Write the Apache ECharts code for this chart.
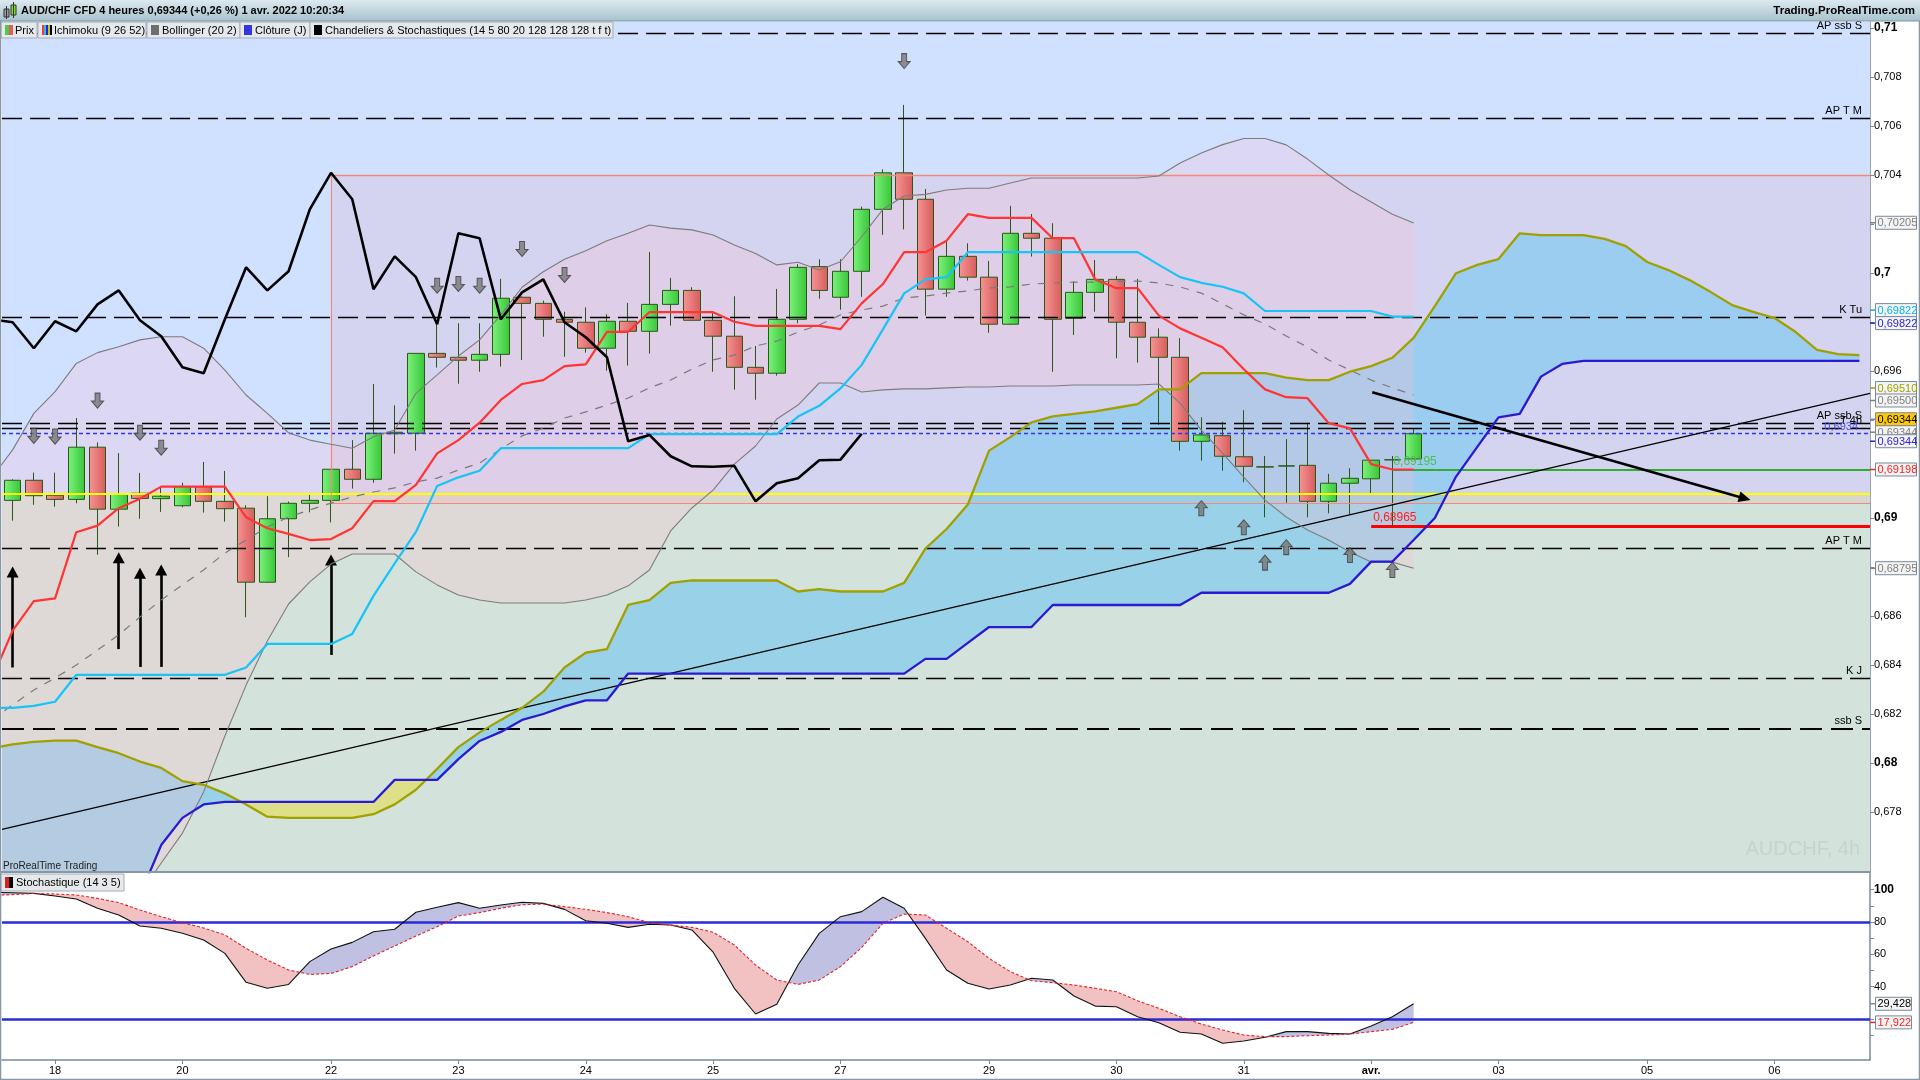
<!DOCTYPE html>
<html>
<head>
<meta charset="utf-8">
<title>AUD/CHF 4h</title>
<script src="https://cdn.jsdelivr.net/npm/echarts@6/dist/echarts.min.js"></script>
<style>
  html, body { margin: 0; padding: 0; background: #fff; }
  #main { width: 1920px; height: 1080px; }
</style>
</head>
<body>
<div id="main"></div>
<script>
// 4h slots on the time axis (67 candles + the projected cloud)
const SLOTS = 88;
const dayIdx = [2, 8, 15, 21, 27, 33, 39, 46, 52, 58, 64, 70, 77, 83];
const dayText = ['18', '20', '22', '23', '24', '25', '27', '29', '30', '31', 'avr.', '03', '05', '06'];

// candles (slot 0 .. 66)
const opens = [
  .69072,.69154,.69093,.69076,.69289,.69036,.69101,.69079,.69050,.69128,
  .69068,.69040,.68738,.68997,.69060,.69072,.69199,.69158,.69344,.69346,
  .69672,.69656,.69644,.69668,.69901,.69876,.69811,.69799,.69693,.69803,
  .69762,.69872,.69929,.69807,.69742,.69615,.69591,.69811,.70026,.69901,
  .70007,.70260,.70409,.70301,.69934,.70068,.69983,.69791,.70162,.70142,
  .69815,.69921,.69974,.69799,.69738,.69656,.69313,.69336,.69250,.69208,
  .69212,.69215,.69068,.69142,.69160,.69237,.69241];
const closes = [
  .69154,.69091,.69076,.69289,.69036,.69097,.69080,.69089,.69128,.69068,
  .69038,.68738,.68997,.69060,.69072,.69199,.69158,.69346,.69350,.69672,
  .69656,.69644,.69668,.69897,.69876,.69811,.69799,.69693,.69803,.69762,
  .69872,.69929,.69807,.69742,.69615,.69591,.69811,.70023,.69929,.70007,
  .70260,.70409,.70301,.69934,.70068,.69983,.69791,.70162,.70142,.69811,
  .69921,.69974,.69799,.69738,.69656,.69313,.69339,.69252,.69211,.69209,
  .69213,.69068,.69142,.69162,.69236,.69238,.69344];
const lows = [
  .68989,.69054,.69046,.69060,.68850,.68965,.68997,.69025,.69044,.69022,
  .68985,.68595,.68735,.68840,.69023,.68982,.69120,.69144,.69263,.69275,
  .69614,.69548,.69597,.69618,.69645,.69740,.69658,.69675,.69601,.69622,
  .69671,.69785,.69805,.69597,.69524,.69483,.69581,.69795,.69895,.69850,
  .69903,.70156,.70178,.69826,.69903,.69969,.69756,.69789,.70067,.69597,
  .69747,.69842,.69652,.69634,.69380,.69275,.69234,.69193,.69146,.69003,
  .69062,.69003,.69019,.69016,.69097,.68965,.69241];
const highs = [
  .69158,.69185,.69185,.69408,.69309,.69265,.69184,.69125,.69144,.69229,
  .69192,.69052,.69089,.69067,.69094,.69199,.69318,.69547,.69460,.69672,
  .69795,.69795,.69795,.69976,.69905,.69887,.69842,.69860,.69831,.69878,
  .70086,.69980,.69942,.69836,.69905,.69702,.69935,.70036,.70056,.70056,
  .70271,.70423,.70686,.70343,.70128,.70121,.70049,.70274,.70241,.70203,
  .69965,.70053,.69988,.69976,.69774,.69734,.69411,.69393,.69440,.69253,
  .69322,.69389,.69180,.69203,.69237,.69253,.69363];

// indicator curves start one slot left of the first candle (slot -1)
const FIRST = -1;

// ichimoku
const tenkan = [.68339,
  .68540,.68661,.68672,.68942,.68969,.69040,.69079,.69128,.69128,.69128,
  .69128,.69003,.68958,.68935,.68910,.68914,.68958,.69069,.69069,.69135,
  .69264,.69318,.69389,.69482,.69547,.69563,.69620,.69627,.69760,.69760,
  .69840,.69840,.69840,.69840,.69801,.69784,.69784,.69784,.69784,.69771,
  .69876,.69955,.70085,.70085,.70132,.70240,.70225,.70225,.70225,.70142,
  .70142,.69974,.69938,.69938,.69826,.69774,.69736,.69697,.69607,.69525,
  .69493,.69489,.69387,.69366,.69220,.69198,.69198];
const kijun = [.68225,
  .68225,.68233,.68250,.68360,.68360,.68360,.68360,.68360,.68360,.68360,
  .68360,.68390,.68486,.68486,.68486,.68486,.68527,.68682,.68815,.68943,
  .69131,.69166,.69193,.69285,.69285,.69285,.69285,.69285,.69285,.69285,
  .69342,.69342,.69342,.69342,.69342,.69342,.69342,.69414,.69458,.69529,
  .69625,.69770,.69917,.69974,.69983,.70085,.70085,.70085,.70085,.70085,
  .70085,.70085,.70085,.70085,.70033,.69983,.69960,.69944,.69917,.69845,
  .69845,.69845,.69845,.69845,.69845,.69822,.69822];
const chikou = [.69811,
  .69799,.69693,.69803,.69762,.69872,.69929,.69807,.69742,.69615,.69591,
  .69811,.70023,.69929,.70007,.70260,.70409,.70301,.69934,.70068,.69983,
  .69791,.70162,.70142,.69811,.69921,.69974,.69799,.69738,.69656,.69313,
  .69339,.69252,.69211,.69209,.69213,.69068,.69142,.69162,.69236,.69238,
  .69344];
const spanA = [.68060,
  .68076,.68086,.68091,.68091,.68065,.68040,.68006,.67980,.67926,.67911,
  .67876,.67831,.67781,.67776,.67776,.67776,.67776,.67791,.67831,.67891,
  .67976,.68065,.68125,.68176,.68225,.68291,.68390,.68450,.68465,.68645,
  .68665,.68735,.68745,.68745,.68745,.68745,.68745,.68700,.68710,.68700,
  .68700,.68700,.68735,.68875,.68955,.69055,.69275,.69330,.69390,.69415,
  .69425,.69435,.69450,.69465,.69525,.69525,.69591,.69591,.69591,.69591,
  .69573,.69563,.69563,.69597,.69620,.69654,.69735,.69865,.69999,.70033,
  .70057,.70162,.70155,.70155,.70155,.70139,.70110,.70045,.70012,.69971,
  .69922,.69869,.69841,.69816,.69759,.69686,.69669,.69665];
const spanB = [.67400,
  .67400,.67400,.67400,.67400,.67400,.67400,.67460,.67665,.67776,.67831,
  .67841,.67841,.67841,.67841,.67841,.67841,.67841,.67841,.67931,.67931,
  .67931,.68016,.68090,.68127,.68176,.68200,.68231,.68256,.68256,.68365,
  .68365,.68365,.68365,.68365,.68365,.68365,.68365,.68365,.68365,.68365,
  .68365,.68365,.68365,.68425,.68425,.68490,.68555,.68555,.68555,.68645,
  .68645,.68645,.68645,.68645,.68645,.68645,.68695,.68695,.68695,.68695,
  .68695,.68695,.68695,.68731,.68822,.68822,.68910,.69000,.69169,.69290,
  .69411,.69425,.69577,.69629,.69641,.69641,.69641,.69641,.69641,.69641,
  .69641,.69641,.69641,.69641,.69641,.69641,.69641,.69641];

// bollinger (20 2)
const bbUpper = [.69163,
  .69278,.69427,.69516,.69631,.69675,.69699,.69727,.69740,.69740,.69693,
  .69604,.69502,.69427,.69348,.69318,.69301,.69285,.69332,.69359,.69509,
  .69584,.69661,.69727,.69829,.69942,.70005,.70056,.70091,.70132,.70162,
  .70196,.70183,.70176,.70155,.70114,.70080,.70033,.70044,.70012,.70046,
  .70148,.70260,.70314,.70321,.70339,.70346,.70346,.70367,.70388,.70388,
  .70388,.70388,.70388,.70388,.70396,.70449,.70490,.70524,.70549,.70549,
  .70523,.70465,.70400,.70340,.70290,.70240,.70204];
const bbMiddle = [.68176,
  .68237,.68298,.68347,.68400,.68461,.68523,.68596,.68665,.68727,.68788,
  .68857,.68910,.68963,.69004,.69033,.69061,.69086,.69106,.69123,.69147,
  .69163,.69196,.69224,.69282,.69335,.69367,.69408,.69433,.69461,.69490,
  .69531,.69563,.69608,.69645,.69665,.69702,.69722,.69759,.69788,.69829,
  .69849,.69865,.69898,.69906,.69918,.69927,.69939,.69943,.69955,.69959,
  .69963,.69963,.69967,.69967,.69959,.69943,.69918,.69874,.69829,.69792,
  .69743,.69698,.69645,.69604,.69563,.69531,.69502];
const bbLower = [.67217,
  .67196,.67167,.67180,.67167,.67249,.67347,.67465,.67592,.67714,.67882,
  .68110,.68318,.68498,.68649,.68739,.68812,.68853,.68853,.68853,.68780,
  .68727,.68686,.68665,.68653,.68653,.68653,.68653,.68665,.68686,.68723,
  .68788,.68947,.69041,.69114,.69220,.69294,.69404,.69461,.69551,.69551,
  .69514,.69523,.69527,.69527,.69531,.69535,.69535,.69539,.69539,.69539,
  .69543,.69543,.69543,.69543,.69547,.69469,.69359,.69265,.69167,.69073,
  .69004,.68951,.68910,.68861,.68820,.68820,.68795];

// stochastique (14 3 5)
const stochK = [98.3,
  98.1,97.7,96.1,94.2,88.5,84.3,77.5,76.1,73.0,68.9,
  60.6,42.7,39.0,41.4,55.5,63.3,67.4,74.0,75.5,86.0,
  89.1,92.0,88.5,90.5,92.2,91.5,87.8,80.8,79.2,76.7,
  78.6,78.1,75.1,61.3,39.0,23.1,29.1,53.4,73.0,83.3,
  86.4,95.3,88.5,69.9,50.3,42.1,38.6,41.0,45.2,44.1,
  34.2,28.0,27.6,21.4,17.7,11.8,10.7,5.0,6.4,8.7,
  12.2,12.2,11.1,10.7,15.7,21.4,29.43];
const stochD = [96.5,
  96.9,97.7,97.3,96.7,94.6,92.0,87.4,83.3,79.6,76.3,
  72.0,63.7,56.5,50.3,47.6,48.2,52.4,59.0,65.2,71.3,
  77.1,83.7,85.8,88.5,90.7,91.1,89.5,87.8,85.8,83.3,
  79.6,78.1,76.7,73.7,65.8,53.4,44.1,41.4,44.1,52.4,
  64.3,79.2,84.9,84.3,76.1,67.8,57.5,49.3,43.7,42.5,
  41.0,39.0,36.9,31.3,26.6,21.4,16.9,13.2,10.1,9.1,
  9.1,9.7,10.1,10.7,12.2,13.6,17.92];
const stochLevels = [80, 20];

// price axis
const priceMin = 0.675551, priceMax = 0.710245;
const priceTicks = [0.678,0.68,0.682,0.684,0.686,0.688,0.69,0.692,0.694,0.696,0.698,0.7,0.702,0.704,0.706,0.708,0.71];
const priceLabels = [0.678,0.68,0.682,0.684,0.686,0.69,0.696,0.7,0.704,0.706,0.708,0.71];
const stochMin = -5.34, stochMax = 110.92;
const stochTicks = [10,20,30,40,50,60,70,80,90,100];
const stochLabels = [40,60,80,100];

// horizontal levels drawn by the "Chandeliers" indicator
const levels = [0.70978, 0.70630, 0.69819, 0.69819, 0.69386, 0.69366, 0.68877, 0.68346, 0.68139];
const levelText = ['AP ssb S', 'AP T M', 'K Tu', '4h', 'AP ssb S', 'T 4h', 'AP T M', 'K J', 'ssb S'];
const lastPrice = 0.69344;
const yellowLevel = 0.69098;
const boxTop = 0.704, boxBottom = 0.69061, boxStart = 15;
const greenLevel = 0.69198, greenStart = 65;
const redLevel = 0.68965, redStart = 64;

// arrows
const downIdx = [1, 2, 4, 6, 7, 20, 21, 22, 24, 26, 42];
const downAt = [0.69335,0.69332,0.69479,0.69348,0.69287,0.69948,0.69955,0.69948,0.70098,0.69992,0.70865];
const upIdx = [56, 58, 59, 60, 63, 65];
const upAt = [0.69040,0.68962,0.68818,0.68881,0.68849,0.68788];
const pushIdx = [0, 5, 6, 7, 15];
const pushFrom = [0.68390,0.68465,0.68392,0.68392,0.68441];
const pushTo = [0.68780,0.68838,0.68775,0.68788,0.68829];
const trendLine = [[-0.5, 0.67729], [87.5, 0.69509]];
const bigArrow = [[64.05, 0.69513], [81.6, 0.69080]];

// value boxes on the right scale
const boxValues = [0.70205, 0.69822, 0.69822, 0.69510, 0.69500, 0.69344, 0.69344, 0.69344, 0.69198, 0.68795];
const boxColors = ['#808080', '#00b4f0', '#2a22d8', '#a0a000', '#808080', '#000000', '#808080', '#2a22d8', '#ff2020', '#808080'];
const boxFills = ['#f4f4f4', '#f4f4f4', '#f4f4f4', '#f4f4f4', '#f4f4f4', '#ffc800', '#f4f4f4', '#f4f4f4', '#f4f4f4', '#f4f4f4'];
const boxNudge = [0, -6.5, 6.5, -5, 5, -14.5, -1.5, 7.5, 0, 0];
const stochBoxValues = [29.428, 17.922];
const stochBoxColors = ['#000000', '#ff2020'];

const FONT = '"Liberation Sans", Arial, sans-serif';
const LEFT = -0.5, RIGHT = SLOTS - 0.5;
const slotNames = Array.from({ length: SLOTS }, (_, i) => 'c' + i);
const dayMap = {};
dayIdx.forEach((ix, k) => { dayMap[ix] = dayText[k]; });
const pairs = (arr, start) => arr.map((v, i) => [i + (start || 0), v]);
const fmtPrice = v => String(+v.toFixed(3)).replace('.', ',');
const fmtBox = v => v.toFixed(5).replace('.', ',');
const hLine = (v, extra) => [Object.assign({ coord: [LEFT, v] }, extra), { coord: [RIGHT, v] }];

function clipHalf(pts, keep, cut) {
  const out = [];
  for (let k = 0; k < pts.length; k++) {
    const a = pts[k], b = pts[(k + 1) % pts.length];
    const ia = keep(a), ib = keep(b);
    if (ia) out.push(a);
    if (ia !== ib) out.push(cut(a, b));
  }
  return out;
}
function clipRect(pts, x0, x1, y0, y1) {
  const cutY = y => (a, b) => { const t = (y - a[1]) / (b[1] - a[1]); return [a[0] + t * (b[0] - a[0]), y]; };
  const cutX = x => (a, b) => { const t = (x - a[0]) / (b[0] - a[0]); return [x, a[1] + t * (b[1] - a[1])]; };
  pts = clipHalf(pts, p => p[1] >= y0, cutY(y0));
  if (pts.length) pts = clipHalf(pts, p => p[1] <= y1, cutY(y1));
  if (pts.length) pts = clipHalf(pts, p => p[0] >= x0, cutX(x0));
  if (pts.length) pts = clipHalf(pts, p => p[0] <= x1, cutX(x1));
  return pts;
}

// filled band between two curves, colour by which one is on top
function bandRender(top, bot, start, posColor, negColor) {
  return function (params, api) {
    if (params.dataIndex !== 0) return;
    const cs = params.coordSys;
    const runs = [];
    let cur = null, prevD = 0;
    for (let k = 0; k < top.length; k++) {
      const d = top[k] - bot[k];
      const s = d >= 0 ? 1 : -1;
      const x = start + k;
      if (cur && s !== cur.s) {
        const t = prevD / (prevD - d);
        const xc = x - 1 + t;
        const yc = top[k - 1] + t * (top[k] - top[k - 1]);
        cur.up.push([xc, yc]); cur.dn.push([xc, yc]);
        runs.push(cur);
        cur = { s: s, up: [[xc, yc]], dn: [[xc, yc]] };
      }
      if (!cur) cur = { s: s, up: [], dn: [] };
      cur.up.push([x, top[k]]); cur.dn.push([x, bot[k]]);
      prevD = d;
    }
    runs.push(cur);
    const children = [];
    runs.forEach(r => {
      const pts = r.up.concat(r.dn.slice().reverse()).map(p => api.coord(p));
      const c = clipRect(pts, cs.x, cs.x + cs.width, cs.y, cs.y + cs.height);
      if (c.length > 2) {
        children.push({ type: 'polygon', shape: { points: c }, style: { fill: r.s > 0 ? posColor : negColor } });
      }
    });
    return { type: 'group', children: children };
  };
}

function zonesRender(params, api) {
  if (params.dataIndex !== 0) return;
  const cs = params.coordSys;
  const L = cs.x, R = cs.x + cs.width, T = cs.y, B = cs.y + cs.height;
  const yY = api.coord([0, yellowLevel])[1];
  const yT = api.coord([0, boxTop])[1];
  const yB = api.coord([0, boxBottom])[1];
  const xB = api.coord([boxStart, 0])[0];
  return { type: 'group', children: [
    { type: 'rect', shape: { x: L, y: T, width: R - L, height: yY - T }, style: { fill: '#d0e0ff' } },
    { type: 'rect', shape: { x: L, y: yY, width: R - L, height: B - yY }, style: { fill: '#d3e2db' } },
    { type: 'rect', shape: { x: xB, y: yT, width: R - xB, height: yB - yT }, style: { fill: 'rgba(255,110,110,0.10)' } }
  ] };
}

function boxRender(values, colors, fills, nudge, w) {
  return function (params, api) {
    const k = params.dataIndex;
    const cs = params.coordSys;
    const x0 = cs.x + cs.width;
    const y = api.coord([0, values[k]])[1] + nudge[k];
    const txt = fills === null ? values[k].toFixed(3).replace('.', ',') : fmtBox(values[k]);
    return { type: 'group', children: [
      { type: 'line', shape: { x1: x0, y1: y, x2: x0 + 5, y2: y }, style: { stroke: colors[k] === '#000000' ? '#7a8a99' : colors[k], lineWidth: 1.5 } },
      { type: 'rect', shape: { x: x0 + 5.5, y: y - 6.5, width: w, height: 13 },
        style: { fill: fills ? fills[k] : '#f4f4f4', stroke: '#7a8a99', lineWidth: 1 } },
      { type: 'text', x: x0 + 7.5, y: y + 0.5,
        style: { text: txt, fill: colors[k], font: '11px ' + FONT, textAlign: 'left', textVerticalAlign: 'middle' } }
    ] };
  };
}

const candleData = opens.map((o, i) => [o, closes[i], lows[i], highs[i]]);
const greenFill = new echarts.graphic.LinearGradient(0, 0, 1, 0, [{ offset: 0, color: '#7cf27c' }, { offset: 1, color: '#38c638' }]);
const redFill = new echarts.graphic.LinearGradient(0, 0, 1, 0, [{ offset: 0, color: '#f79494' }, { offset: 1, color: '#d65c5c' }]);

const levelLines = levels.map((v, k) => hLine(v, {
  lineStyle: { color: '#000', width: levelText[k] === 'ssb S' ? 2.2 : 1.4, type: levelText[k] === 'ssb S' ? [22, 9] : [20, 8], opacity: levelText[k] === '4h' ? 0 : 1 },
  label: { formatter: levelText[k], distance: levelText[k] === '4h' ? [6, 2] : [8, 2] }
}));

const arrowDown = 'path://M3.5,0 L8.5,0 L8.5,8 L12,8 L6,15 L0,8 L3.5,8 Z';
const arrowUp = 'path://M6,0 L12,7 L8.5,7 L8.5,15 L3.5,15 L3.5,7 L0,7 Z';

const myChart = echarts.init(document.getElementById('main'), null, { renderer: 'canvas' });
const line = (name, data, color, width, type, z, extra) => Object.assign({
  name: name, type: 'line', xAxisIndex: 1, yAxisIndex: 0, data: data, showSymbol: false, symbol: 'none',
  lineStyle: { color: color, width: width, type: type || 'solid' }, z: z, silent: true
}, extra || {});
const hiddenX = (grid) => ({ type: 'value', gridIndex: grid, min: LEFT, max: RIGHT, show: false,
  axisLine: { show: false, onZero: false }, axisTick: { show: false }, axisLabel: { show: false }, splitLine: { show: false } });

const option = {
  animation: false,
  textStyle: { fontFamily: FONT },
  grid: [
    { left: 2, top: 22, width: 1868, height: 850 },
    { left: 2, top: 872, width: 1868, height: 188 }
  ],
  xAxis: [
    { type: 'category', gridIndex: 0, data: slotNames, show: false, axisLine: { onZero: false } },
    hiddenX(0),
    { type: 'category', gridIndex: 1, data: slotNames, position: 'bottom',
      axisLine: { show: true, onZero: false, lineStyle: { color: '#7a8a99', width: 1.5 } },
      axisTick: { show: true, alignWithLabel: true, length: 4, interval: i => dayMap[i] !== undefined, lineStyle: { color: '#7a8a99' } },
      axisLabel: { interval: i => dayMap[i] !== undefined, margin: 5, fontSize: 11, color: '#000',
        formatter: (v, i) => (dayMap[i] === 'avr.' ? '{b|avr.}' : dayMap[i]),
        rich: { b: { fontWeight: 'bold', fontSize: 11, color: '#000' } } },
      splitLine: { show: false } },
    hiddenX(1)
  ],
  yAxis: [
    { type: 'value', gridIndex: 0, position: 'right', min: priceMin, max: priceMax, scale: true,
      axisLine: { show: true, onZero: false, lineStyle: { color: '#7a8a99', width: 1.5 } },
      axisTick: { show: true, length: 4, customValues: priceTicks, lineStyle: { color: '#7a8a99' } },
      axisLabel: { customValues: priceLabels, margin: 4, fontSize: 11, color: '#000',
        formatter: v => (Math.abs(v * 100 - Math.round(v * 100)) < 1e-6 ? '{b|' + fmtPrice(v) + '}' : fmtPrice(v)),
        rich: { b: { fontWeight: 'bold', fontSize: 12, color: '#000' } } },
      splitLine: { show: false } },
    { type: 'value', gridIndex: 1, position: 'right', min: stochMin, max: stochMax,
      axisLine: { show: true, onZero: false, lineStyle: { color: '#7a8a99', width: 1.5 } },
      axisTick: { show: true, length: 4, customValues: stochTicks, lineStyle: { color: '#7a8a99' } },
      axisLabel: { customValues: stochLabels, margin: 4, fontSize: 11, color: '#000',
        formatter: v => (v === 100 ? '{b|100}' : String(v)),
        rich: { b: { fontWeight: 'bold', fontSize: 12, color: '#000' } } },
      splitLine: { show: false } }
  ],
  series: [
    { type: 'custom', xAxisIndex: 1, yAxisIndex: 0, data: [[0, 0]], renderItem: zonesRender, z: 1, silent: true },
    { type: 'custom', xAxisIndex: 1, yAxisIndex: 0, data: [[0, 0]], z: 2, silent: true,
      renderItem: bandRender(spanA, spanB, FIRST, 'rgba(115,200,240,0.6)', 'rgba(232,222,70,0.55)') },
    { type: 'custom', xAxisIndex: 1, yAxisIndex: 0, data: [[0, 0]], z: 3, silent: true,
      renderItem: bandRender(bbUpper, bbLower, FIRST, 'rgba(255,190,205,0.26)', 'rgba(255,190,205,0.26)') },
    { name: 'Prix', type: 'candlestick', xAxisIndex: 0, yAxisIndex: 0, data: candleData, barWidth: 17, z: 4, silent: true,
      itemStyle: { color: greenFill, color0: redFill, borderColor: '#2b5716', borderColor0: '#2b5716', borderWidth: 1 } },
    // levels, zone borders
    line('levels', [[0, lastPrice]], 'transparent', 0, 'solid', 5, {
      markLine: { silent: true, symbol: ['none', 'none'], animation: false, precision: 6,
        label: { show: true, position: 'insideEndTop', color: '#000', fontSize: 11, fontFamily: FONT },
        data: levelLines.concat([
          hLine(lastPrice, { lineStyle: { color: '#3434e6', width: 1.3, type: [4, 3] },
            label: { formatter: '0,6934', color: '#5050f0', distance: [12, 1] } }),
          hLine(yellowLevel, { lineStyle: { color: '#ffff00', width: 2, type: 'solid' }, label: { show: false } }),
          [{ coord: [boxStart, boxTop], lineStyle: { color: '#f28a7c', width: 1.3, type: 'solid' }, label: { show: false } }, { coord: [RIGHT, boxTop] }],
          [{ coord: [boxStart, boxBottom], lineStyle: { color: '#f28a7c', width: 1, type: 'solid' }, label: { show: false } }, { coord: [RIGHT, boxBottom] }],
          [{ coord: [boxStart, boxTop], lineStyle: { color: '#f28a7c', width: 1.2, type: 'solid' }, label: { show: false } }, { coord: [boxStart, boxBottom] }],
          [{ coord: [greenStart, greenLevel], lineStyle: { color: '#2fae2f', width: 2, type: 'solid' },
            label: { formatter: '0,69195', position: 'insideStartTop', color: '#4cc04c', fontSize: 12, distance: [1, 2] } },
           { coord: [RIGHT, greenLevel] }],
          [{ coord: [redStart, redLevel], lineStyle: { color: '#ff0000', width: 3, type: 'solid' },
            label: { formatter: '0,68965', position: 'insideStartTop', color: '#ff2020', fontSize: 12, distance: [2, 3] } },
           { coord: [RIGHT, redLevel] }]
        ]) } }),
    // bollinger
    line('BB haut', pairs(bbUpper, FIRST), '#7c7c7c', 1.1, 'solid', 6),
    line('BB bas', pairs(bbLower, FIRST), '#7c7c7c', 1.1, 'solid', 6),
    line('BB moy', pairs(bbMiddle, FIRST), '#7a7a7a', 1.2, [8, 8], 6),
    // ichimoku
    line('SSA', pairs(spanA, FIRST), '#a0a000', 2.3, 'solid', 7),
    line('SSB', pairs(spanB, FIRST), '#2a1ad0', 2.3, 'solid', 7),
    line('Tenkan', pairs(tenkan, FIRST), '#ff3434', 2.2, 'solid', 7),
    line('Kijun', pairs(kijun, FIRST), '#16c4f6', 2.2, 'solid', 7),
    line('Chikou', pairs(chikou, FIRST), '#000000', 2.6, 'solid', 7),
    // trend lines and arrows
    line('trend', [[0, lastPrice]], 'transparent', 0, 'solid', 8, {
      markLine: { silent: true, animation: false, precision: 6, label: { show: false },
        data: [
          [{ coord: trendLine[0], symbol: 'none', lineStyle: { color: '#000', width: 1.2, type: 'solid' } }, { coord: trendLine[1], symbol: 'none' }],
          [{ coord: bigArrow[0], symbol: 'none', lineStyle: { color: '#000', width: 2.6, type: 'solid' } },
           { coord: bigArrow[1], symbol: 'triangle', symbolSize: [11, 12] }]
        ].concat(pushIdx.map((ix, k) => [
          { coord: [ix, pushFrom[k]], symbol: 'none', lineStyle: { color: '#000', width: 2.6, type: 'solid' } },
          { coord: [ix, pushTo[k]], symbol: 'triangle', symbolSize: [12, 11] }
        ])) } }),
    { type: 'scatter', xAxisIndex: 1, yAxisIndex: 0, data: downIdx.map((ix, k) => [ix, downAt[k]]), symbol: arrowDown, symbolSize: [12, 15],
      itemStyle: { color: '#777777', borderColor: '#3c3c3c', borderWidth: 1 }, z: 9, silent: true },
    { type: 'scatter', xAxisIndex: 1, yAxisIndex: 0, data: upIdx.map((ix, k) => [ix, upAt[k]]), symbol: arrowUp, symbolSize: [12, 15],
      itemStyle: { color: '#777777', borderColor: '#3c3c3c', borderWidth: 1 }, z: 9, silent: true },
    // value boxes on the price scale
    { type: 'custom', xAxisIndex: 1, yAxisIndex: 0, data: boxValues.map((v, k) => [k, v]), z: 12, silent: true, clip: false,
      renderItem: boxRender(boxValues, boxColors, boxFills, boxNudge, 41) },
    // stochastic panel
    { type: 'custom', xAxisIndex: 3, yAxisIndex: 1, data: [[0, 0]], z: 2, silent: true,
      renderItem: bandRender(stochK, stochD, FIRST, '#c0c0e2', '#f2c2c2') },
    { name: '%K', type: 'line', xAxisIndex: 3, yAxisIndex: 1, data: pairs(stochK, FIRST), showSymbol: false, symbol: 'none', z: 5, silent: true,
      lineStyle: { color: '#111', width: 1.1 },
      markLine: { silent: true, symbol: ['none', 'none'], animation: false, precision: 2, label: { show: false },
        lineStyle: { color: '#2a2ad8', width: 2.6, type: 'solid' },
        data: stochLevels.map(v => hLine(v)) } },
    { name: '%D', type: 'line', xAxisIndex: 3, yAxisIndex: 1, data: pairs(stochD, FIRST), showSymbol: false, symbol: 'none', z: 6, silent: true,
      lineStyle: { color: '#e02424', width: 1.1, type: [3, 2] } },
    { type: 'custom', xAxisIndex: 3, yAxisIndex: 1, data: stochBoxValues.map((v, k) => [k, v]), z: 12, silent: true, clip: false,
      renderItem: boxRender(stochBoxValues, stochBoxColors, null, [0, 0], 36) }
  ],
  graphic: [
    // title bar
    { type: 'rect', z: 100, shape: { x: 0, y: 0, width: 1920, height: 21 },
      style: { fill: new echarts.graphic.LinearGradient(0, 0, 0, 1, [{ offset: 0, color: '#dde9ef' }, { offset: 1, color: '#a7c2cd' }]) } },
    { type: 'line', z: 101, shape: { x1: 0, y1: 21, x2: 1920, y2: 21 }, style: { stroke: '#7d97a4', lineWidth: 1 } },
    { type: 'rect', z: 101, shape: { x: 4, y: 9, width: 5, height: 8 }, style: { fill: '#9a9a9a', stroke: '#333', lineWidth: 1 } },
    { type: 'line', z: 101, shape: { x1: 6.5, y1: 6, x2: 6.5, y2: 19 }, style: { stroke: '#333', lineWidth: 1 } },
    { type: 'rect', z: 101, shape: { x: 11, y: 5, width: 5, height: 10 }, style: { fill: '#7ee02c', stroke: '#333', lineWidth: 1 } },
    { type: 'line', z: 101, shape: { x1: 13.5, y1: 2, x2: 13.5, y2: 18 }, style: { stroke: '#333', lineWidth: 1 } },
    { type: 'text', z: 102, x: 21, y: 11, style: { text: 'AUD/CHF CFD 4 heures 0,69344 (+0,26 %) 1 avr. 2022 10:20:34',
      fill: '#000', font: 'bold 11px ' + FONT, textAlign: 'left', textVerticalAlign: 'middle' } },
    { type: 'text', z: 102, x: 1915, y: 11, style: { text: 'Trading.ProRealTime.com',
      fill: '#000', font: 'bold 11.5px ' + FONT, textAlign: 'right', textVerticalAlign: 'middle' } },
    // legend row
    { type: 'rect', z: 100, shape: { x: 1, y: 22, width: 36, height: 16 }, style: { fill: '#e6e9ec', stroke: '#a4adb5', lineWidth: 1 } },
    { type: 'rect', z: 101, shape: { x: 5, y: 25, width: 4, height: 10 }, style: { fill: '#4ccc4c' } },
    { type: 'rect', z: 101, shape: { x: 9, y: 25, width: 4, height: 10 }, style: { fill: '#e45a5a' } },
    { type: 'text', z: 102, x: 15, y: 30.5, style: { text: 'Prix', fill: '#000', font: '11px ' + FONT, textAlign: 'left', textVerticalAlign: 'middle' } },
    { type: 'rect', z: 100, shape: { x: 38, y: 22, width: 108, height: 16 }, style: { fill: '#e6e9ec', stroke: '#a4adb5', lineWidth: 1 } },
    { type: 'rect', z: 101, shape: { x: 42, y: 25, width: 2, height: 10 }, style: { fill: '#ff3434' } },
    { type: 'rect', z: 101, shape: { x: 44, y: 25, width: 2, height: 10 }, style: { fill: '#16c4f6' } },
    { type: 'rect', z: 101, shape: { x: 46, y: 25, width: 2, height: 10 }, style: { fill: '#2a1ad0' } },
    { type: 'rect', z: 101, shape: { x: 48, y: 25, width: 2, height: 10 }, style: { fill: '#c8c800' } },
    { type: 'rect', z: 101, shape: { x: 50, y: 25, width: 2, height: 10 }, style: { fill: '#000' } },
    { type: 'text', z: 102, x: 54, y: 30.5, style: { text: 'Ichimoku (9 26 52)', fill: '#000', font: '11px ' + FONT, textAlign: 'left', textVerticalAlign: 'middle' } },
    { type: 'rect', z: 100, shape: { x: 147, y: 22, width: 93, height: 16 }, style: { fill: '#e6e9ec', stroke: '#a4adb5', lineWidth: 1 } },
    { type: 'rect', z: 101, shape: { x: 151, y: 25, width: 8, height: 10 }, style: { fill: '#6e6e6e' } },
    { type: 'text', z: 102, x: 162, y: 30.5, style: { text: 'Bollinger (20 2)', fill: '#000', font: '11px ' + FONT, textAlign: 'left', textVerticalAlign: 'middle' } },
    { type: 'rect', z: 100, shape: { x: 240, y: 22, width: 70, height: 16 }, style: { fill: '#e6e9ec', stroke: '#a4adb5', lineWidth: 1 } },
    { type: 'rect', z: 101, shape: { x: 244, y: 25, width: 8, height: 10 }, style: { fill: '#3434e0' } },
    { type: 'text', z: 102, x: 255, y: 30.5, style: { text: 'Clôture (J)', fill: '#000', font: '11px ' + FONT, textAlign: 'left', textVerticalAlign: 'middle' } },
    { type: 'rect', z: 100, shape: { x: 310, y: 22, width: 303, height: 16 }, style: { fill: '#e6e9ec', stroke: '#a4adb5', lineWidth: 1 } },
    { type: 'rect', z: 101, shape: { x: 314, y: 25, width: 8, height: 10 }, style: { fill: '#000' } },
    { type: 'text', z: 102, x: 325, y: 30.5, style: { text: 'Chandeliers & Stochastiques (14 5 80 20 128 128 128 t f t)', fill: '#000', font: '11px ' + FONT, textAlign: 'left', textVerticalAlign: 'middle' } },
    // panel texts
    { type: 'text', z: 102, x: 3, y: 866, style: { text: 'ProRealTime Trading', fill: '#222', font: '10px ' + FONT, textAlign: 'left', textVerticalAlign: 'middle' } },
    { type: 'text', z: 102, x: 1860, y: 849, style: { text: 'AUDCHF, 4h', fill: '#c3d5cd', font: '20px ' + FONT, textAlign: 'right', textVerticalAlign: 'middle' } },
    { type: 'rect', z: 100, shape: { x: 1, y: 874, width: 123, height: 17 }, style: { fill: '#e6e9ec', stroke: '#a4adb5', lineWidth: 1 } },
    { type: 'rect', z: 101, shape: { x: 5, y: 877, width: 4, height: 11 }, style: { fill: '#e02020' } },
    { type: 'rect', z: 101, shape: { x: 9, y: 877, width: 4, height: 11 }, style: { fill: '#000' } },
    { type: 'text', z: 102, x: 16, y: 883, style: { text: 'Stochastique (14 3 5)', fill: '#000', font: '11px ' + FONT, textAlign: 'left', textVerticalAlign: 'middle' } },
    // frames
    { type: 'line', z: 103, shape: { x1: 0, y1: 872, x2: 1870, y2: 872 }, style: { stroke: '#8797a5', lineWidth: 2 } },
    { type: 'line', z: 103, shape: { x1: 0.5, y1: 21, x2: 0.5, y2: 1080 }, style: { stroke: '#8797a5', lineWidth: 1.5 } },
    { type: 'line', z: 103, shape: { x1: 0, y1: 1079.5, x2: 1920, y2: 1079.5 }, style: { stroke: '#8797a5', lineWidth: 1.5 } },
    { type: 'line', z: 103, shape: { x1: 1919.5, y1: 21, x2: 1919.5, y2: 1080 }, style: { stroke: '#8797a5', lineWidth: 1.5 } }
  ]
};
myChart.setOption(option);
</script>
</body>
</html>
